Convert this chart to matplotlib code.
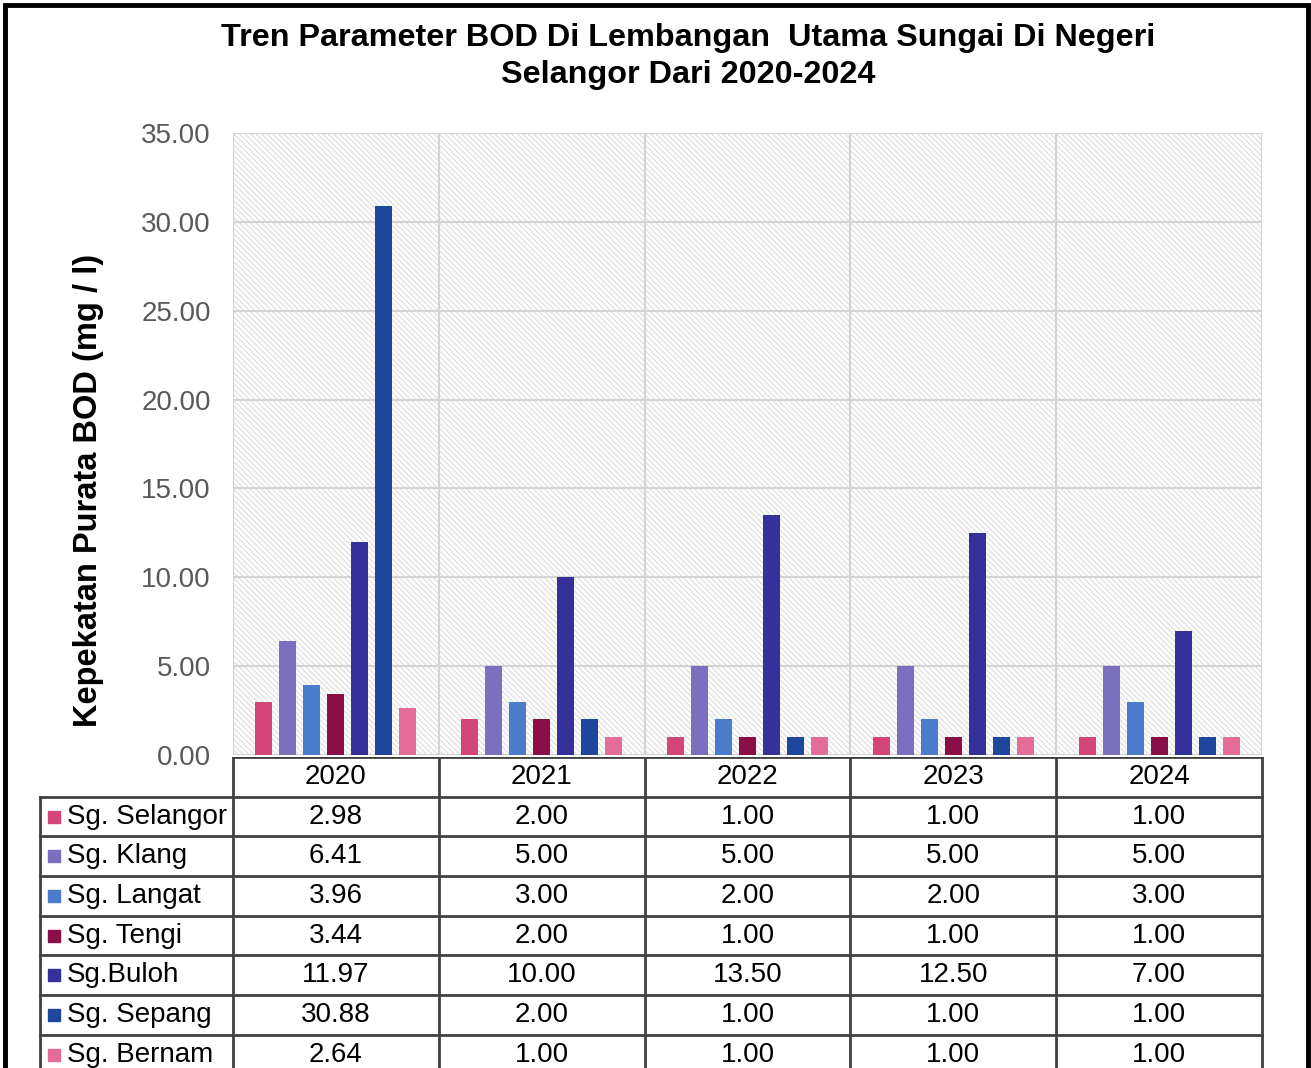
import matplotlib.pyplot as plt
from matplotlib.patches import Rectangle

plt.rcParams['font.family'] = ['Liberation Sans', 'DejaVu Sans']
plt.rcParams['hatch.linewidth'] = 1.0

# data
years = ['2020', '2021', '2022', '2023', '2024']
rivers = ['Sg. Selangor', 'Sg. Klang', 'Sg. Langat', 'Sg. Tengi', 'Sg.Buloh', 'Sg. Sepang', 'Sg. Bernam']
selangor = [2.98, 2.00, 1.00, 1.00, 1.00]
klang = [6.41, 5.00, 5.00, 5.00, 5.00]
langat = [3.96, 3.00, 2.00, 2.00, 3.00]
tengi = [3.44, 2.00, 1.00, 1.00, 1.00]
buloh = [11.97, 10.00, 13.50, 12.50, 7.00]
sepang = [30.88, 2.00, 1.00, 1.00, 1.00]
bernam = [2.64, 1.00, 1.00, 1.00, 1.00]
series = [selangor, klang, langat, tengi, buloh, sepang, bernam]
colors = ['#d4457a', '#7b70c0', '#4a7ccb', '#8a0f47', '#35309a', '#1f469d', '#e36c98']

W, H = 1311, 1068
fig = plt.figure(figsize=(W / 100, H / 100), dpi=100)

def fx(px):
    return px / W

def fy(py):
    return 1 - py / H

# chart axes
ax_l, ax_r, ax_t, ax_b = 233, 1262, 133, 755
ax = fig.add_axes([fx(ax_l), fy(ax_b), fx(ax_r - ax_l), (ax_b - ax_t) / H])
ax.set_xlim(0, len(years))
ax.set_ylim(0, 35)

# hatched background
ax.add_patch(Rectangle((0, 0), 1, 1, transform=ax.transAxes, facecolor='white',
                       edgecolor='#e2e2e2', hatch='\\' * 6, linewidth=0, zorder=0))

for v in range(0, 36, 5):
    ax.axhline(v, color='#d3d3d3', lw=1.5, zorder=1)
for i in range(len(years) + 1):
    ax.axvline(i, color='#d3d3d3', lw=1.5, zorder=1)

step = 0.1166
bw = 0.083
for k, (vals, c) in enumerate(zip(series, colors)):
    xs = [i + 0.5 + (k - 3) * step for i in range(len(years))]
    ax.bar(xs, vals, width=bw, color=c, zorder=3)

ax.set_yticks(range(0, 36, 5))
ax.set_yticklabels([f'{v:.2f}' for v in range(0, 36, 5)], fontsize=20, color='#595959')
ax.tick_params(axis='y', length=0, pad=16)
ax.set_xticks([])
for s in ax.spines.values():
    s.set_visible(False)

fig.text(fx(88), fy(490), 'Kepekatan Purata BOD (mg / l)', rotation=90,
         ha='center', va='center', fontsize=23.5, fontweight='bold')

fig.text(fx(688), fy(38), 'Tren Parameter BOD Di Lembangan  Utama Sungai Di Negeri',
         ha='center', va='center', fontsize=23.3, fontweight='bold')
fig.text(fx(688), fy(75), 'Selangor Dari 2020-2024',
         ha='center', va='center', fontsize=23.3, fontweight='bold')

# data table
lab_l = 40
row_h = 39.7
tab_top = 757
nrows = len(rivers) + 1
tab = fig.add_axes([0, fy(tab_top + nrows * row_h), 1, nrows * row_h / H])
tab.set_xlim(0, W)
tab.set_ylim(nrows * row_h, 0)
tab.axis('off')
lc = '#404040'
col_w = (ax_r - ax_l) / len(years)
tab.plot([ax_l, ax_r], [0, 0], color=lc, lw=2)
for r in range(1, nrows + 1):
    tab.plot([lab_l, ax_r], [r * row_h, r * row_h], color=lc, lw=2)
tab.plot([lab_l, lab_l], [row_h, nrows * row_h], color=lc, lw=2)
for i in range(len(years) + 1):
    x = ax_l + i * col_w
    tab.plot([x, x], [0, nrows * row_h], color=lc, lw=2)

for i, y in enumerate(years):
    tab.text(ax_l + (i + 0.5) * col_w, 0.5 * row_h, y, ha='center', va='center', fontsize=20)
for r, (name, vals, c) in enumerate(zip(rivers, series, colors)):
    yc = (r + 1.5) * row_h
    tab.add_patch(Rectangle((48, yc - 6), 12, 12, color=c))
    tab.text(67, yc, name, ha='left', va='center', fontsize=20)
    for i, v in enumerate(vals):
        tab.text(ax_l + (i + 0.5) * col_w, yc, f'{v:.2f}', ha='center', va='center', fontsize=20)

# outer border
fig.patches.append(Rectangle((fx(5), fy(1100)), fx(1303), (1100 - 5) / H, transform=fig.transFigure,
                             fill=False, edgecolor='black', lw=3.5))

fig.savefig('out.png', dpi=100)
